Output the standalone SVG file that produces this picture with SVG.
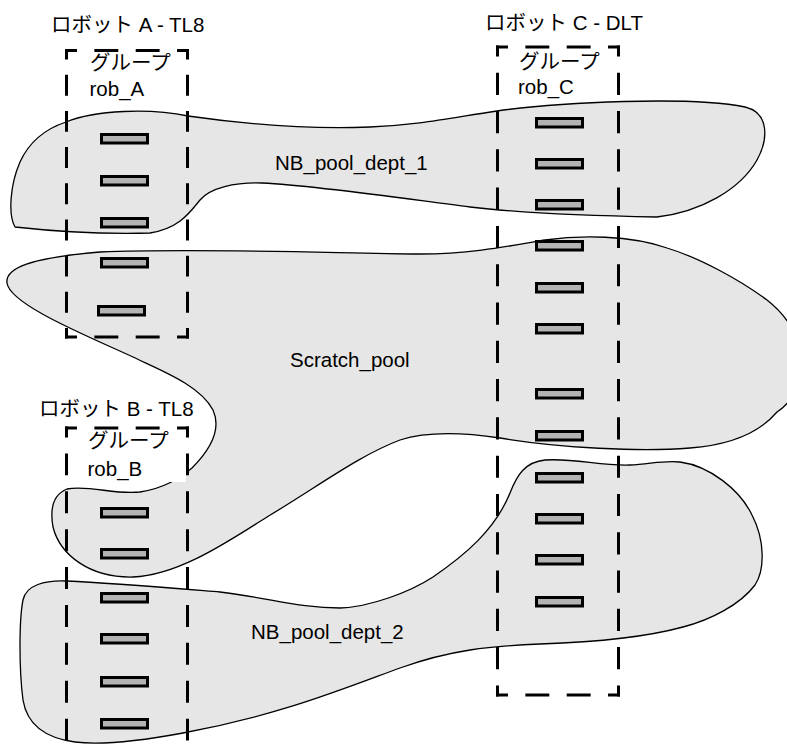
<svg xmlns="http://www.w3.org/2000/svg" width="787" height="750" viewBox="0 0 787 750">
<style>
.pool{fill:#e6e6e6;stroke:#000;stroke-width:1.3;stroke-linejoin:round}
.tape{fill:#b3b3b3;stroke:#000;stroke-width:3}
.dash{fill:none;stroke:#000;stroke-width:3;stroke-dasharray:22 16;stroke-dashoffset:11}
text{font-family:"Liberation Sans","Noto Sans CJK JP",sans-serif;font-size:20.5px;fill:#000}
</style>
<rect width="787" height="750" fill="#fff"/>
<g id="pool-nb1">
<path class="pool" d="M 66 122 C 95 110, 150 108, 188 116 C 230 122, 300 130, 370 127 C 420 125, 450 118, 497 111 C 560 102, 690 96, 745 107 C 770 113, 768 140, 757 160 C 740 190, 700 212, 657 217 C 600 216, 530 214, 470 207 C 400 198, 320 186, 262 183 C 235 182, 210 188, 200 200 C 190 212, 180 228, 150 233 C 110 234, 60 232, 15 227 C 8 215, 10 185, 20 162 C 30 140, 48 128, 66 122 Z"/>
<text x="275" y="170">NB_pool_dept_1</text>
</g>
<g id="pool-scratch">
<path class="pool" d="M 7 283 C 5 268, 30 258, 100 252 C 200 248, 330 253, 420 254 C 470 254, 510 246, 545 240 C 580 235, 630 235, 667 248 C 700 258, 740 280, 767 300 C 790 318, 810 350, 800 380 C 795 395, 788 405, 777 412 C 760 432, 730 445, 690 448 C 640 452, 560 448, 500 438 C 460 432, 425 432, 400 440 C 360 455, 320 485, 267 517 C 230 540, 180 575, 133 577 C 90 578, 60 555, 53 527 C 50 510, 52 495, 67 489 C 90 485, 115 495, 140 492 C 165 488, 180 478, 192 468 C 210 450, 222 430, 213 410 C 200 385, 160 370, 133 357 C 90 337, 10 305, 7 283 Z"/>
<text x="290" y="366.5">Scratch_pool</text>
</g>
<g id="pool-nb2">
<path class="pool" d="M 510 493 C 517 475, 525 462, 545 460 C 575 458, 600 466, 630 465 C 650 464, 665 460, 680 462 C 710 466, 740 490, 752 515 C 765 540, 765 570, 755 585 C 740 605, 710 620, 683 627 C 650 636, 600 642, 540 644 C 490 646, 450 650, 400 668 C 340 690, 280 715, 183 733 C 140 741, 100 745, 75 742 C 45 738, 27 725, 23 700 C 19 670, 19 620, 23 600 C 26 585, 45 580, 67 581 C 110 583, 170 588, 220 592 C 270 598, 300 608, 340 608 C 370 607, 410 592, 433 577 C 465 555, 495 530, 510 493 Z"/>
<text x="251" y="638.5">NB_pool_dept_2</text>
</g>
<g id="robot-a">
<rect class="tape" x="101.5" y="134.5" width="46" height="8.5"/>
<rect class="tape" x="101.5" y="176.5" width="46" height="8.5"/>
<rect class="tape" x="101.5" y="218.5" width="46" height="8.5"/>
<rect class="tape" x="101.5" y="258.5" width="46" height="8.5"/>
<rect class="tape" x="98.5" y="306.5" width="46" height="8.5"/>
<line class="dash" x1="65" y1="50.5" x2="189" y2="50.5" pathLength="114"/>
<line class="dash" x1="65" y1="337" x2="189" y2="337" pathLength="114"/>
<line class="dash" x1="66.5" y1="49" x2="66.5" y2="338.5" pathLength="304"/>
<line class="dash" x1="187.5" y1="49" x2="187.5" y2="338.5" pathLength="304"/>
<text x="51" y="31.5">ロボット A - TL8</text>
<text x="90" y="70">グループ</text>
<text x="89.5" y="96">rob_A</text>
</g>
<g id="robot-b">
<rect x="68" y="430" width="118" height="52" fill="#fff"/>
<rect class="tape" x="101.5" y="508.5" width="46" height="8.5"/>
<rect class="tape" x="101.5" y="549.5" width="46" height="8.5"/>
<rect class="tape" x="101.5" y="593.5" width="46" height="8.5"/>
<rect class="tape" x="101.5" y="634.5" width="46" height="8.5"/>
<rect class="tape" x="101.5" y="677.5" width="46" height="8.5"/>
<rect class="tape" x="101.5" y="719.5" width="46" height="8.5"/>
<line class="dash" x1="65" y1="428" x2="189" y2="428" pathLength="114"/>
<line class="dash" x1="66.5" y1="426.5" x2="66.5" y2="767.5" pathLength="342"/>
<line class="dash" x1="187.5" y1="426.5" x2="187.5" y2="767.5" pathLength="342"/>
<text x="39" y="416">ロボット B - TL8</text>
<text x="88" y="448">グループ</text>
<text x="87.5" y="476">rob_B</text>
</g>
<g id="robot-c">
<rect class="tape" x="536.5" y="118.5" width="46" height="8.5"/>
<rect class="tape" x="536.5" y="159.5" width="46" height="8.5"/>
<rect class="tape" x="536.5" y="200.5" width="46" height="8.5"/>
<rect class="tape" x="536.5" y="241.5" width="46" height="8.5"/>
<rect class="tape" x="536.5" y="283.5" width="46" height="8.5"/>
<rect class="tape" x="536.5" y="324.5" width="46" height="8.5"/>
<rect class="tape" x="536.5" y="389.5" width="46" height="8.5"/>
<rect class="tape" x="536.5" y="431.5" width="46" height="8.5"/>
<rect class="tape" x="536.5" y="473.5" width="46" height="8.5"/>
<rect class="tape" x="536.5" y="514.5" width="46" height="8.5"/>
<rect class="tape" x="536.5" y="555.5" width="46" height="8.5"/>
<rect class="tape" x="536.5" y="597.5" width="46" height="8.5"/>
<line class="dash" x1="496" y1="47" x2="620" y2="47" pathLength="114"/>
<line class="dash" x1="496" y1="695" x2="620" y2="695" pathLength="114"/>
<line class="dash" x1="497.5" y1="45.5" x2="497.5" y2="696.5" pathLength="646"/>
<line class="dash" x1="618.5" y1="45.5" x2="618.5" y2="696.5" pathLength="646"/>
<text x="485" y="29.5">ロボット C - DLT</text>
<text x="519" y="69">グループ</text>
<text x="518" y="93.5">rob_C</text>
</g>
<g id="connectors"/>
</svg>
